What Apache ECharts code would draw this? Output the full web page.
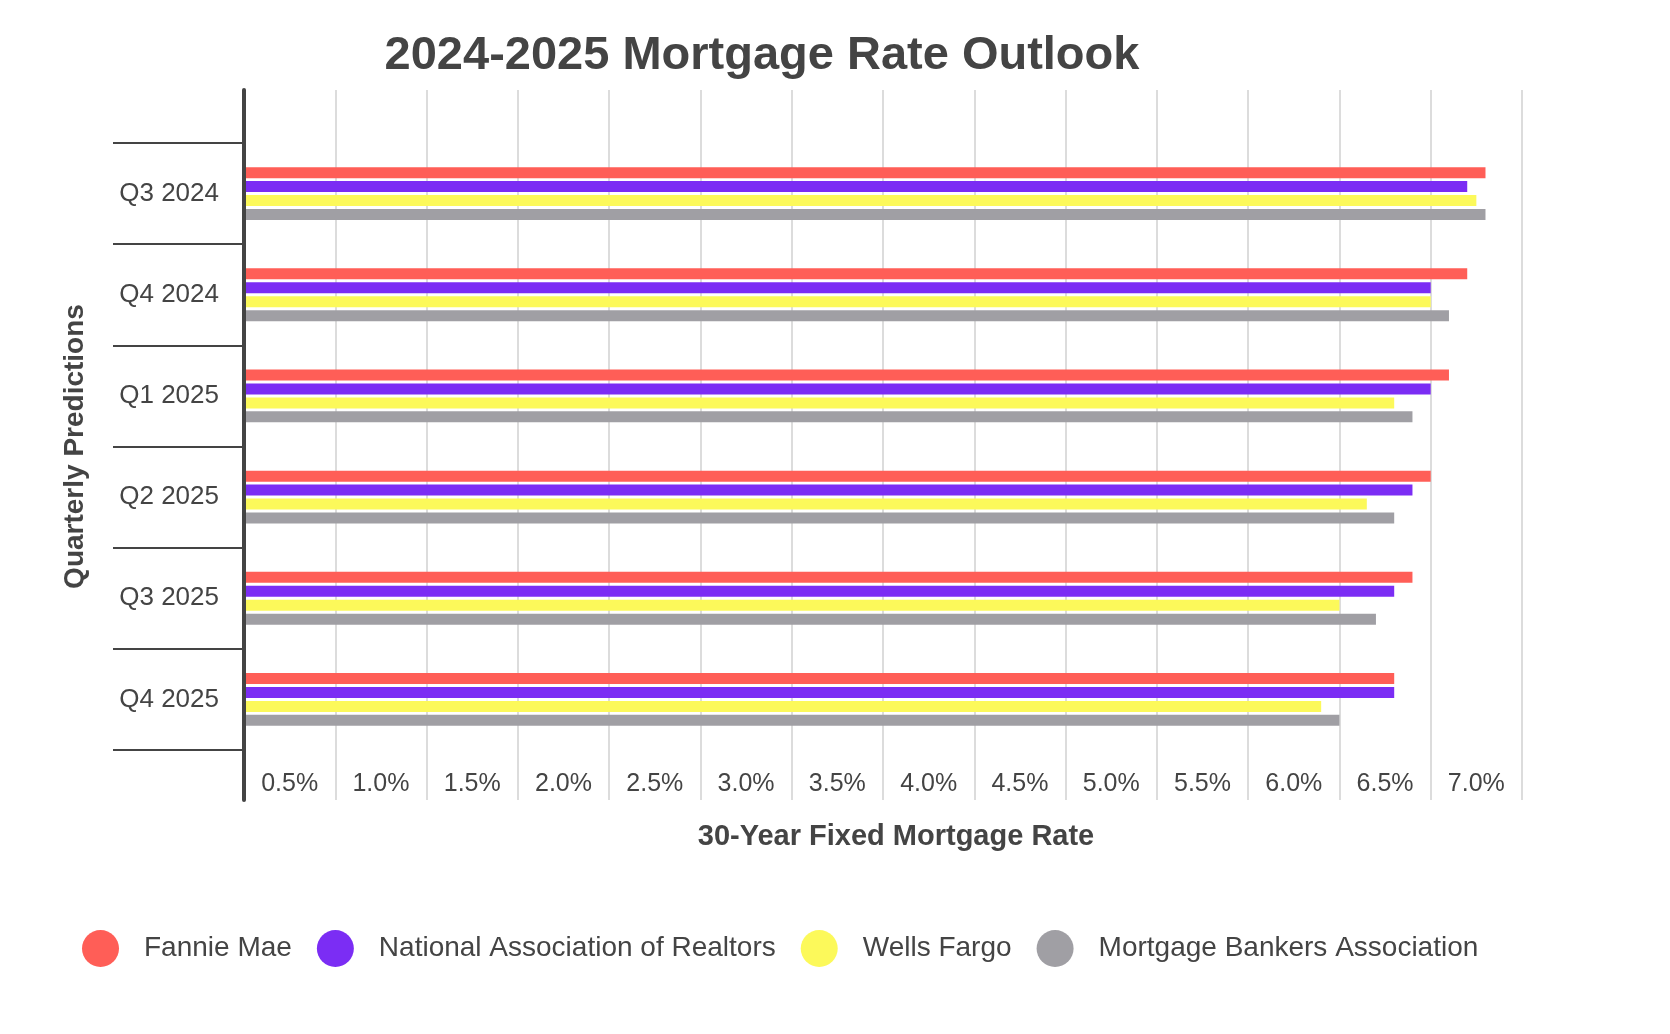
<!DOCTYPE html>
<html>
<head>
<meta charset="utf-8">
<script src="https://cdn.jsdelivr.net/npm/echarts@6/dist/echarts.min.js"></script>
<style>
html,body{margin:0;padding:0;background:#ffffff;}
#chart{width:1670px;height:1034px;}
</style>
</head>
<body>
<div id="chart"></div>
<script>
const categories = ['Q3 2024', 'Q4 2024', 'Q1 2025', 'Q2 2025', 'Q3 2025', 'Q4 2025'];
const fannieMae = [6.8, 6.7, 6.6, 6.5, 6.4, 6.3];
const nationalAssocRealtors = [6.7, 6.5, 6.5, 6.4, 6.3, 6.3];
const wellsFargo = [6.75, 6.5, 6.3, 6.15, 6.0, 5.9];
const mortgageBankers = [6.8, 6.6, 6.4, 6.3, 6.2, 6.0];
const tickLabels = ['0.5%', '1.0%', '1.5%', '2.0%', '2.5%', '3.0%', '3.5%', '4.0%', '4.5%', '5.0%', '5.5%', '6.0%', '6.5%', '7.0%'];
const seriesNames = ['Fannie Mae', 'National Association of Realtors', 'Wells Fargo', 'Mortgage Bankers Association'];
const seriesColors = ['#FF5E57', '#7B2DF4', '#FCF95A', '#A09FA4'];

const FONT = '"Liberation Sans", Arial, Helvetica, sans-serif';
const TXT = '#444444';

const chart = echarts.init(document.getElementById('chart'), null, {renderer: 'canvas'});

const seriesData = [fannieMae, nationalAssocRealtors, wellsFargo, mortgageBankers];

const option = {
  backgroundColor: '#ffffff',
  animation: false,
  title: {
    text: '2024-2025 Mortgage Rate Outlook',
    left: 757,
    top: 28,
    textAlign: 'center',
    textStyle: {fontFamily: FONT, fontSize: 47, fontWeight: 'bold', color: TXT}
  },
  legend: {
    data: seriesNames,
    left: 77,
    top: 925,
    icon: 'circle',
    itemWidth: 37,
    itemHeight: 37,
    itemGap: 25,
    textStyle: {fontFamily: FONT, fontSize: 28, color: TXT, padding: [0, 0, 0, 20]}
  },
  grid: [
    {left: 244, right: 148, top: 90, bottom: 234},
    {left: 244, right: 148, top: 143, bottom: 284}
  ],
  xAxis: [
    {
      gridIndex: 0,
      type: 'category',
      data: tickLabels,
      boundaryGap: true,
      axisLine: {show: false},
      axisTick: {show: false},
      axisLabel: {interval: 0, margin: -16, verticalAlign: 'middle', fontFamily: FONT, fontSize: 25, color: TXT},
      splitLine: {show: true, interval: 0, lineStyle: {color: '#dcdcdc', width: 2}},
      name: '30-Year Fixed Mortgage Rate',
      nameLocation: 'middle',
      nameGap: 37,
      nameTextStyle: {fontFamily: FONT, fontSize: 29, fontWeight: 'bold', color: TXT, verticalAlign: 'middle', padding: [0, 0, 0, 26]}
    },
    {
      gridIndex: 1,
      type: 'value',
      min: 0,
      max: 7,
      show: false
    }
  ],
  yAxis: [
    {
      gridIndex: 0,
      type: 'value',
      min: 0,
      max: 1,
      z: 5,
      axisLine: {show: true, onZero: false, lineStyle: {color: TXT, width: 4}},
      axisTick: {show: false},
      axisLabel: {show: false},
      splitLine: {show: false}
    },
    {
      gridIndex: 1,
      type: 'category',
      data: categories,
      inverse: true,
      boundaryGap: true,
      axisLine: {show: false},
      axisTick: {show: true, interval: 0, length: 131, lineStyle: {color: TXT, width: 2}},
      axisLabel: {interval: 0, margin: 25, fontFamily: FONT, fontSize: 26, color: TXT},
      splitLine: {show: false},
      name: 'Quarterly Predictions',
      nameLocation: 'middle',
      nameGap: 155,
      nameRotate: 90,
      nameTextStyle: {fontFamily: FONT, fontSize: 28, fontWeight: 'bold', color: TXT}
    }
  ],
  series: seriesNames.map((name, i) => ({
    name: name,
    type: 'bar',
    xAxisIndex: 1,
    yAxisIndex: 1,
    data: seriesData[i],
    barWidth: 11,
    barGap: '27%',
    itemStyle: {color: seriesColors[i]}
  }))
};

chart.setOption(option);
</script>
</body>
</html>
